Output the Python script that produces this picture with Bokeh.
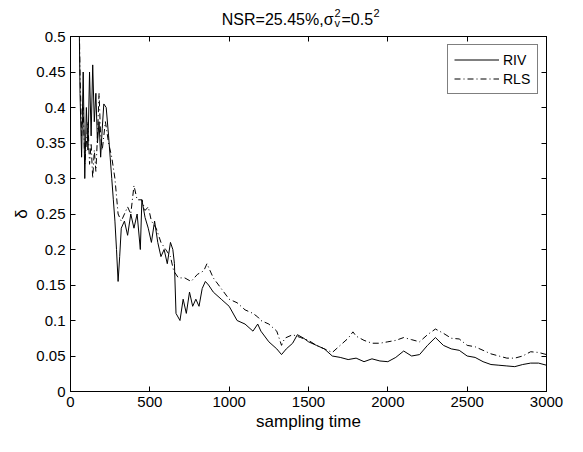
from bokeh.plotting import figure
from bokeh.layouts import column
from bokeh.models import Range1d, FixedTicker, LinearAxis, Legend, LegendItem
from bokeh.core.properties import value
from bokeh.embed import file_html
from bokeh.resources import INLINE

# ---- data ----
riv_t = [50, 60, 70, 80, 90, 100, 110, 120, 130, 140, 150, 160, 170, 180, 190, 200, 210, 225, 240, 250,
         260, 270, 280, 290, 300, 310, 320, 340, 360, 380, 400, 420, 440, 450, 470, 490, 510, 530, 550, 570,
         590, 610, 630, 645, 655, 665, 690, 710, 730, 750, 770, 790, 810, 830, 850, 870, 900, 950, 1000, 1050,
         1100, 1150, 1180, 1200, 1250, 1300, 1330, 1360, 1400, 1430, 1470, 1500, 1550, 1600, 1650, 1700, 1750, 1800, 1850, 1900,
         1950, 2000, 2050, 2100, 2150, 2200, 2250, 2300, 2350, 2400, 2450, 2500, 2550, 2600, 2650, 2700, 2750, 2800, 2850, 2900,
         2950, 3000]
riv = [0.62, 0.42, 0.33, 0.45, 0.30, 0.40, 0.34, 0.45, 0.36, 0.46, 0.38, 0.42, 0.35, 0.38, 0.33, 0.37, 0.405, 0.40, 0.36, 0.33,
       0.30, 0.27, 0.24, 0.20, 0.155, 0.19, 0.23, 0.24, 0.22, 0.25, 0.23, 0.25, 0.20, 0.27, 0.245, 0.23, 0.21, 0.24, 0.21, 0.19,
       0.20, 0.18, 0.21, 0.20, 0.18, 0.11, 0.10, 0.13, 0.11, 0.14, 0.12, 0.13, 0.12, 0.145, 0.155, 0.15, 0.14, 0.13, 0.12, 0.10,
       0.095, 0.085, 0.095, 0.085, 0.07, 0.06, 0.052, 0.06, 0.068, 0.08, 0.075, 0.07, 0.065, 0.06, 0.05, 0.048, 0.045, 0.047, 0.042, 0.046,
       0.043, 0.042, 0.048, 0.057, 0.05, 0.052, 0.065, 0.076, 0.065, 0.06, 0.058, 0.05, 0.048, 0.042, 0.038, 0.037, 0.036, 0.035, 0.038, 0.04,
       0.04, 0.037]

rls_t = [50, 60, 70, 80, 90, 100, 110, 120, 130, 140, 150, 160, 170, 180, 190, 200, 220, 240, 260, 280,
         300, 320, 340, 360, 380, 400, 420, 450, 470, 490, 510, 540, 570, 600, 630, 650, 680, 720, 760, 800,
         840, 860, 900, 950, 1000, 1050, 1100, 1150, 1180, 1200, 1250, 1300, 1330, 1350, 1400, 1450, 1500, 1550, 1600, 1650,
         1700, 1750, 1780, 1800, 1850, 1900, 1950, 2000, 2050, 2100, 2150, 2200, 2250, 2300, 2350, 2400, 2450, 2500, 2550, 2600,
         2650, 2700, 2750, 2800, 2850, 2900, 2950, 3000]
rls = [0.60, 0.45, 0.36, 0.40, 0.32, 0.35, 0.38, 0.32, 0.35, 0.30, 0.34, 0.31, 0.36, 0.42, 0.36, 0.34, 0.38, 0.35, 0.33, 0.30,
       0.25, 0.24, 0.25, 0.26, 0.25, 0.29, 0.27, 0.27, 0.255, 0.26, 0.24, 0.23, 0.21, 0.20, 0.19, 0.17, 0.16, 0.16, 0.155, 0.165,
       0.17, 0.18, 0.16, 0.145, 0.13, 0.125, 0.115, 0.11, 0.105, 0.10, 0.095, 0.085, 0.065, 0.075, 0.08, 0.076, 0.072, 0.065, 0.06, 0.055,
       0.065, 0.075, 0.084, 0.078, 0.072, 0.068, 0.068, 0.07, 0.072, 0.076, 0.073, 0.07, 0.08, 0.088, 0.082, 0.075, 0.074, 0.065, 0.063, 0.058,
       0.053, 0.05, 0.047, 0.047, 0.05, 0.056, 0.055, 0.052]

x_ticks = [0, 500, 1000, 1500, 2000, 2500, 3000]
x_tick_labels = ["0", "500", "1000", "1500", "2000", "2500", "3000"]
y_ticks = [0, 0.05, 0.1, 0.15, 0.2, 0.25, 0.3, 0.35, 0.4, 0.45, 0.5]
y_tick_labels = ["0", "0.05", "0.1", "0.15", "0.2", "0.25", "0.3", "0.35", "0.4", "0.45", "0.5"]

FONT = "Liberation Sans"
BL, BR = 70, 21  # left / right borders shared by both stacked figures
STRIP_H = 28

# ---- title strip (sigma with stacked super/subscript) ----
t = figure(width=567, height=STRIP_H, output_backend="svg", toolbar_location=None,
           x_range=Range1d(0, 3000), y_range=Range1d(0, STRIP_H),
           min_border_left=BL, min_border_right=BR, min_border_top=0, min_border_bottom=0)
t.axis.visible = False
t.grid.visible = False
t.outline_line_color = None
t.background_fill_color = "white"
t.border_fill_color = "white"
TS = "16px"
SS = "11px"
t.text(x=[1500], y=[9], text=["NSR=25.45%,σ"], x_offset=25, text_align="right", text_baseline="alphabetic",
       text_font=value(FONT), text_font_size=TS, text_color="black")
t.text(x=[1500], y=[16], text=["2"], x_offset=26, text_align="left", text_baseline="alphabetic",
       text_font=value(FONT), text_font_size=SS, text_color="black")
t.text(x=[1500], y=[6], text=["v"], x_offset=26, text_align="left", text_baseline="alphabetic",
       text_font=value(FONT), text_font_size=SS, text_color="black")
t.text(x=[1500], y=[9], text=["=0.5"], x_offset=33, text_align="left", text_baseline="alphabetic",
       text_font=value(FONT), text_font_size=TS, text_color="black")
t.text(x=[1500], y=[16], text=["2"], x_offset=65, text_align="left", text_baseline="alphabetic",
       text_font=value(FONT), text_font_size=SS, text_color="black")

# ---- main plot ----
p = figure(width=567, height=436 - STRIP_H, output_backend="svg", toolbar_location=None,
           x_range=Range1d(0, 3000), y_range=Range1d(0, 0.5),
           min_border_left=BL, min_border_right=BR, min_border_top=8, min_border_bottom=45)
p.background_fill_color = "white"
p.border_fill_color = "white"
p.outline_line_color = "black"
p.outline_line_width = 1
p.xgrid.visible = False
p.ygrid.visible = False

def style_axis(ax, ticks, labels, show_labels=True):
    ax.ticker = FixedTicker(ticks=ticks)
    ax.major_label_overrides = {tk: lb for tk, lb in zip(ticks, labels)}
    ax.major_tick_in = 5
    ax.major_tick_out = 0
    ax.minor_tick_in = 0
    ax.minor_tick_out = 0
    ax.axis_line_color = "black"
    ax.major_tick_line_color = "black"
    ax.major_label_text_font = FONT
    ax.major_label_text_font_size = "15px" if show_labels else "0px"
    ax.major_label_text_color = "black" if show_labels else None
    ax.major_label_standoff = 5

style_axis(p.xaxis[0], x_ticks, x_tick_labels)
style_axis(p.yaxis[0], y_ticks, y_tick_labels)
p.xaxis[0].axis_label = "sampling time"
p.yaxis[0].axis_label = "δ"
for ax in (p.xaxis[0], p.yaxis[0]):
    ax.axis_label_text_font = FONT
    ax.axis_label_text_font_size = "17px"
    ax.axis_label_text_font_style = "normal"
    ax.axis_label_text_color = "black"
    ax.axis_label_standoff = 2

top_ax = LinearAxis()
style_axis(top_ax, x_ticks, x_tick_labels, show_labels=False)
p.add_layout(top_ax, "above")
right_ax = LinearAxis()
style_axis(right_ax, y_ticks, y_tick_labels, show_labels=False)
p.add_layout(right_ax, "right")

r1 = p.line(riv_t, riv, line_color="black", line_width=1)
r2 = p.line(rls_t, rls, line_color="black", line_width=1, line_dash="6 3 1 3")

legend = Legend(items=[LegendItem(label="RIV", renderers=[r1]), LegendItem(label="RLS", renderers=[r2])],
                location="top_right", margin=8, padding=6, spacing=2,
                glyph_width=45, glyph_height=17, label_width=28, label_standoff=4,
                border_line_color="black", border_line_width=1,
                background_fill_color="white", background_fill_alpha=1.0,
                label_text_font=FONT, label_text_font_size="14px", label_text_color="black")
p.add_layout(legend, "center")

layout = column(t, p, spacing=0)
open("out.html", "w").write(file_html(layout, INLINE))
